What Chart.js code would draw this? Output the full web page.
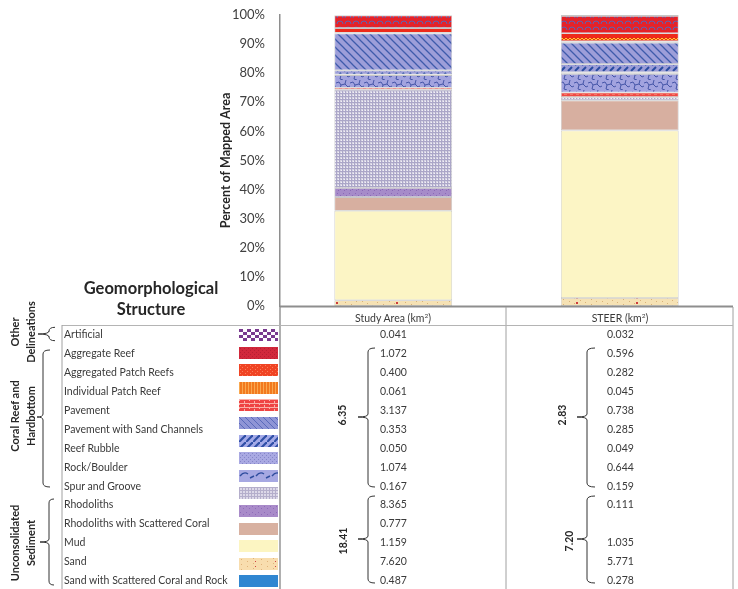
<!DOCTYPE html>
<html>
<head>
<meta charset="utf-8">
<script src="https://cdn.jsdelivr.net/npm/chart.js@4.4.0/dist/chart.umd.min.js"></script>
<style>
body { margin: 0; background: #fff; font-family: Lato, sans-serif; color: #3a3a3a; }
#wrap { position: relative; width: 738px; height: 589px; overflow: hidden; }
#chartBox { position: absolute; left: 0; top: 0; width: 738px; height: 320px; }
#lines { position: absolute; left: 0; top: 0; }
.t { position: absolute; white-space: nowrap; font-size: 10.5px; line-height: 12px; transform: translateY(-50%); }
.c { transform: translate(-50%, -50%); }
.r { transform: translate(-50%, -50%) rotate(-90deg); text-align: center; font-weight: bold; color: #262626; }
.sw { position: absolute; }
</style>
</head>
<body>
<div id="wrap">
  <div id="chartBox"><canvas id="geoChart"></canvas></div>
  <svg id="lines" width="738" height="589"></svg>
</div>
<script>
// Data (km2)
var structures = ['Artificial', 'Aggregate Reef', 'Aggregated Patch Reefs', 'Individual Patch Reef',
  'Pavement', 'Pavement with Sand Channels', 'Reef Rubble', 'Rock/Boulder', 'Spur and Groove',
  'Rhodoliths', 'Rhodoliths with Scattered Coral', 'Mud', 'Sand', 'Sand with Scattered Coral and Rock'];
var studyArea = [0.041, 1.072, 0.400, 0.061, 3.137, 0.353, 0.050, 1.074, 0.167, 8.365, 0.777, 1.159, 7.620, 0.487];
var steer = [0.032, 0.596, 0.282, 0.045, 0.738, 0.285, 0.049, 0.644, 0.159, 0.111, null, 1.035, 5.771, 0.278];
var columns = ['Study Area (km²)', 'STEER (km²)'];
var groupNames = [['Other', 'Delineations'], ['Coral Reef and', 'Hardbottom'], ['Unconsolidated', 'Sediment']];
var studyTotals = ['6.35', '18.41'];
var steerTotals = ['2.83', '7.20'];

function share(arr) {
  var sum = arr.reduce(function (a, b) { return a + (b || 0); }, 0);
  return arr.map(function (v) { return v == null ? 0 : v / sum * 100; });
}
var studyPct = share(studyArea);
var steerPct = share(steer);

// texture helpers
function pat(w, h, bg, draw) {
  var c = document.createElement('canvas');
  c.width = w; c.height = h;
  var g = c.getContext('2d');
  g.fillStyle = bg; g.fillRect(0, 0, w, h);
  if (draw) draw(g);
  return g.createPattern(c, 'repeat');
}
function dots(col, pts) {
  return function (g) { g.fillStyle = col; pts.forEach(function (p) { g.fillRect(p[0], p[1], 1, 1); }); };
}

var checker = pat(8, 6, '#ffffff', function (g) { g.fillStyle = '#7a3b8f'; g.fillRect(0, 0, 4, 3); g.fillRect(4, 3, 4, 3); });

// fills as they appear in the bars (table order)
var barFills = [
  checker,
  pat(8, 6, '#e52228', function (g) { g.strokeStyle = '#5a64b4'; g.lineWidth = 1; g.beginPath(); g.arc(4, 6, 3, Math.PI, 0); g.stroke(); }),
  pat(8, 6, '#ee2a1a', function (g) { g.strokeStyle = '#ffd42a'; g.lineWidth = 1; g.beginPath(); g.moveTo(0, 4); g.lineTo(2, 2); g.lineTo(4, 4); g.lineTo(6, 2); g.lineTo(8, 4); g.stroke(); }),
  pat(3, 4, '#f07a1c', function (g) { g.fillStyle = '#f9a24a'; g.fillRect(0, 0, 1, 4); }),
  pat(8, 8, '#9d9ed9', function (g) { g.strokeStyle = '#3f5bab'; g.lineWidth = 1.3; g.beginPath(); g.moveTo(-1, -1); g.lineTo(9, 9); g.moveTo(-5, 3); g.lineTo(5, 13); g.moveTo(3, -5); g.lineTo(13, 5); g.stroke(); }),
  pat(7, 6, '#9b9dd8', function (g) { g.strokeStyle = '#2a4ba0'; g.lineWidth = 2; g.beginPath(); g.moveTo(1, 5); g.lineTo(5, 1); g.stroke(); }),
  pat(4, 4, '#a3a3df', dots('#7c7cc4', [[1, 1], [3, 3]])),
  pat(14, 10, '#a2a3df', function (g) { g.strokeStyle = '#4656a8'; g.lineWidth = 1; g.beginPath(); g.moveTo(0, 3); g.lineTo(3, 2); g.lineTo(5, 5); g.lineTo(9, 4); g.lineTo(12, 7); g.lineTo(14, 6); g.moveTo(5, 5); g.lineTo(4, 9); g.lineTo(7, 10); g.moveTo(9, 4); g.lineTo(10, 0); g.stroke(); }),
  pat(6, 2, '#ef4a45', function (g) { g.fillStyle = '#f47a6a'; g.fillRect(0, 0, 3, 1); }),
  pat(3, 3, '#d6d3e3', function (g) { g.fillStyle = '#aba6c8'; g.fillRect(0, 0, 3, 1); g.fillRect(0, 0, 1, 3); g.fillStyle = '#f2f0f7'; g.fillRect(2, 2, 1, 1); }),
  pat(6, 6, '#a68bc9', dots('#8a68b6', [[1, 1], [4, 3], [2, 4]])),
  '#d7afa0',
  '#fcf5c5',
  pat(60, 5, '#f6e2b4', function (g) { dots('#d8b279', [[2, 1], [7, 3], [12, 0], [17, 2], [23, 4], [29, 1], [34, 3], [40, 0], [45, 2], [51, 4], [56, 1]])(g); g.fillStyle = '#cc3c3c'; g.fillRect(36, 2, 2, 2); })
];

// legend swatches as drawn in the figure's table column
var swatchFills = [
  checker,
  pat(4, 4, '#d1283b', dots('#b81e32', [[1, 1], [3, 3]])),
  pat(5, 4, '#f04424', dots('#f8805c', [[1, 1], [3, 3]])),
  pat(3, 4, '#f27a1e', function (g) { g.fillStyle = '#f9a850'; g.fillRect(0, 0, 1, 4); }),
  pat(10, 4, '#ef4444', function (g) { g.fillStyle = '#fbb0a8'; g.fillRect(0, 0, 10, 1); g.fillRect(0, 0, 1, 2); g.fillRect(5, 2, 1, 2); }),
  pat(6, 6, '#8f95d6', function (g) { g.strokeStyle = '#5a6abb'; g.lineWidth = 1; g.beginPath(); g.moveTo(0, 0); g.lineTo(6, 6); g.stroke(); }),
  pat(7, 7, '#a4aae8', function (g) { g.strokeStyle = '#2f4fa6'; g.lineWidth = 2.2; g.beginPath(); g.moveTo(-1, 8); g.lineTo(8, -1); g.stroke(); }),
  pat(4, 4, '#a9a9e2', dots('#8585c8', [[1, 1], [3, 3]])),
  pat(16, 10, '#a6a8e2', function (g) { g.strokeStyle = '#2f4d9e'; g.lineWidth = 1.4; g.beginPath(); g.moveTo(1, 6); g.quadraticCurveTo(5, 1, 9, 4); g.moveTo(11, 8); g.lineTo(15, 6); g.stroke(); }),
  pat(3, 3, '#dcd8e8', function (g) { g.fillStyle = '#b4aecb'; g.fillRect(0, 0, 3, 1); g.fillRect(0, 0, 1, 3); }),
  pat(6, 6, '#a98bc9', dots('#8e6cb8', [[1, 1], [4, 3]])),
  '#d8b1a1',
  '#fcf5c2',
  pat(20, 5, '#f8ddae', function (g) { dots('#e0b27a', [[2, 1], [8, 3], [14, 0]])(g); g.fillStyle = '#d04040'; g.fillRect(16, 3, 1, 1); }),
  '#2f86d1'
];

// datasets stacked from the bottom of the table upwards
var datasets = [];
for (var i = structures.length - 1; i >= 0; i--) {
  datasets.push({
    label: structures[i],
    data: [studyPct[i], steerPct[i]],
    backgroundColor: barFills[i],
    borderColor: 'rgba(160,160,160,0.6)',
    borderWidth: 0.8,
    borderSkipped: false,
    categoryPercentage: 1.0,
    barPercentage: 0.52
  });
}

var ctx = document.getElementById('geoChart').getContext('2d');
var chart = new Chart(ctx, {
  type: 'bar',
  data: { labels: columns, datasets: datasets },
  options: {
    responsive: true,
    maintainAspectRatio: false,
    animation: false,
    layout: { padding: { left: 214, top: 15, right: 5, bottom: 14 } },
    plugins: { legend: { display: false }, tooltip: { enabled: false } },
    scales: {
      x: { stacked: true, display: false },
      y: {
        stacked: true,
        min: 0,
        max: 100,
        afterFit: function (scale) {
          scale.width = 66;
          scale.paddingTop = 0;
          scale.paddingBottom = 0;
        },
        ticks: {
          stepSize: 10,
          padding: 15,
          color: '#404040',
          font: { family: 'Lato', size: 13 },
          callback: function (v) { return v + '%'; }
        },
        grid: { display: false, drawTicks: false },
        border: { display: true, color: '#8e8e8e', width: 1.5 },
        title: {
          display: true,
          text: 'Percent of Mapped Area',
          color: '#262626',
          font: { family: 'Lato', size: 12.5, weight: 'bold' }
        }
      }
    }
  }
});

// ---- table under the chart ----
var wrap = document.getElementById('wrap');
var svg = document.getElementById('lines');
function addText(txt, x, y, cls, css) {
  var d = document.createElement('div');
  d.className = 't ' + (cls || '');
  d.innerHTML = txt;
  d.style.left = x + 'px';
  d.style.top = y + 'px';
  if (css) for (var k in css) d.style[k] = css[k];
  wrap.appendChild(d);
  return d;
}
function line(x1, y1, x2, y2, col, w) {
  var l = document.createElementNS('http://www.w3.org/2000/svg', 'line');
  l.setAttribute('x1', x1); l.setAttribute('y1', y1); l.setAttribute('x2', x2); l.setAttribute('y2', y2);
  l.setAttribute('stroke', col); l.setAttribute('stroke-width', w);
  svg.appendChild(l);
}
function brace(sx, y1, y2, tx, ty, ax) {
  var p = document.createElementNS('http://www.w3.org/2000/svg', 'path');
  var d = 'M' + ax + ',' + y1 + ' Q' + sx + ',' + y1 + ' ' + sx + ',' + (y1 + 4) +
    ' L' + sx + ',' + (ty - 3) + ' Q' + sx + ',' + ty + ' ' + tx + ',' + ty +
    ' Q' + sx + ',' + ty + ' ' + sx + ',' + (ty + 3) +
    ' L' + sx + ',' + (y2 - 4) + ' Q' + sx + ',' + y2 + ' ' + ax + ',' + y2;
  p.setAttribute('d', d);
  p.setAttribute('fill', 'none');
  p.setAttribute('stroke', '#333');
  p.setAttribute('stroke-width', 1);
  svg.appendChild(p);
}

line(280, 306.5, 733, 306.5, '#8e8e8e', 2);
line(280, 306, 280, 589, '#8e8e8e', 1.4);
line(506, 307, 506, 589, '#a0a0a0', 1);
line(733, 307, 733, 589, '#a0a0a0', 1);
line(62, 325.5, 733, 325.5, '#b4b4b4', 1);
line(62, 325, 62, 589, '#a0a0a0', 1);

addText('Geomorphological', 151, 288, 'c', { fontSize: '16.5px', fontWeight: 'bold', color: '#262626', lineHeight: '19px' });
addText('Structure', 151, 309, 'c', { fontSize: '16.5px', fontWeight: 'bold', color: '#262626', lineHeight: '19px' });

addText(columns[0].replace('²', '<sup style="font-size:6.5px">2</sup>'), 393, 316.5, 'c');
addText(columns[1].replace('²', '<sup style="font-size:6.5px">2</sup>'), 620, 316.5, 'c');

var rowY0 = 334.3, rowStep = 18.9;
structures.forEach(function (name, i) {
  var y = rowY0 + i * rowStep;
  addText(name, 64, y);
  addText(studyArea[i].toFixed(3), 380, y);
  if (steer[i] != null) addText(steer[i].toFixed(3), 607, y);
});

swatchFills.forEach(function (f, i) {
  var c = document.createElement('canvas');
  c.width = 39; c.height = 12;
  c.className = 'sw';
  c.style.left = '239px';
  c.style.top = (329 + i * 17.6) + 'px';
  var g = c.getContext('2d');
  g.fillStyle = f; g.fillRect(0, 0, 39, 12);
  wrap.appendChild(c);
});

// group labels and braces on the left
var groupCentres = [332, 416, 543];
groupNames.forEach(function (lines, i) {
  addText(lines.join('<br>'), 23, groupCentres[i], 'r', { fontSize: '11px', lineHeight: '16px' });
});
brace(49, 327.3, 340.7, 38, 334, 55);
brace(43, 350, 487, 37, 417, 50);
brace(49, 499, 585, 40, 542, 54);

// sub-totals inside the table
brace(368, 348, 487, 358, 417, 375);
brace(368, 496, 583, 358, 539, 375);
brace(587, 348, 487, 577, 417, 595);
brace(587, 496, 583, 577, 539, 595);
addText(studyTotals[0], 342, 415, 'r', { fontSize: '10.5px' });
addText(studyTotals[1], 343, 541, 'r', { fontSize: '10.5px' });
addText(steerTotals[0], 562, 415, 'r', { fontSize: '10.5px' });
addText(steerTotals[1], 569, 541, 'r', { fontSize: '10.5px' });
</script>
</body>
</html>
